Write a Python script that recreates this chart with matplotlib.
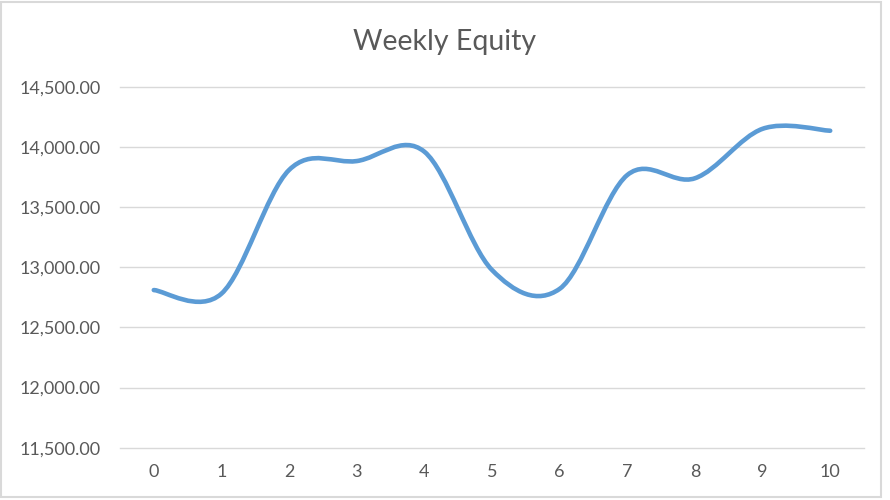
import numpy as np
import matplotlib
matplotlib.use("Agg")
import matplotlib.pyplot as plt
from matplotlib.path import Path
from matplotlib.patches import PathPatch, Rectangle
from matplotlib.ticker import FuncFormatter

# Weekly equity values
weeks = [0, 1, 2, 3, 4, 5, 6, 7, 8, 9, 10]
equity = [12810, 12780, 13808, 13882, 13960, 12977, 12820, 13766, 13739, 14150, 14134]
y_ticks = [11500, 12000, 12500, 13000, 13500, 14000, 14500]

plt.rcParams['font.family'] = ['Lato', 'DejaVu Sans']
grey = '#595959'

fig = plt.figure(figsize=(8.9, 5), dpi=100)
ax = fig.add_axes([0.1348, 0.1046, 0.8360, 0.7220])

# smoothed line like Excel: cubic bezier through each point
x = np.array(weeks, dtype=float)
y = np.array(equity, dtype=float)
xp = np.concatenate([[x[0]], x, [x[-1]]])
yp = np.concatenate([[y[0]], y, [y[-1]]])
verts = [(x[0], y[0])]
codes = [Path.MOVETO]
for i in range(len(x) - 1):
    c1 = (x[i] + (xp[i + 2] - xp[i]) / 6, y[i] + (yp[i + 2] - yp[i]) / 6)
    c2 = (x[i + 1] - (xp[i + 3] - xp[i + 1]) / 6, y[i + 1] - (yp[i + 3] - yp[i + 1]) / 6)
    verts += [c1, c2, (x[i + 1], y[i + 1])]
    codes += [Path.CURVE4] * 3
line = PathPatch(Path(verts, codes), facecolor='none', edgecolor='#5b9bd5',
                 lw=3.3, capstyle='round', joinstyle='round', zorder=3)
ax.add_patch(line)

ax.set_xlim(-0.5, 10.5)
ax.set_ylim(11500, 14500)
ax.set_xticks(weeks)
ax.set_yticks(y_ticks)
ax.yaxis.set_major_formatter(FuncFormatter(lambda v, p: f"{v:,.2f}"))
ax.grid(axis='y', color='#d9d9d9', lw=1)
for gl in ax.yaxis.get_gridlines():
    gl.set_clip_on(False)
ax.set_axisbelow(True)
for s in ax.spines.values():
    s.set_visible(False)
ax.tick_params(axis='both', length=0, labelsize=13, labelcolor=grey)
ax.tick_params(axis='y', pad=14)
ax.tick_params(axis='x', pad=12)

fig.text(0.5, 0.9, 'Weekly Equity', ha='center', va='baseline', fontsize=20.5, color=grey)

# chart border
fig.patches.append(Rectangle((0.0015, 0.006), 0.988, 0.99, transform=fig.transFigure,
                             fill=False, edgecolor='#d9d9d9', lw=1.5))

fig.savefig('out.png', dpi=100)
